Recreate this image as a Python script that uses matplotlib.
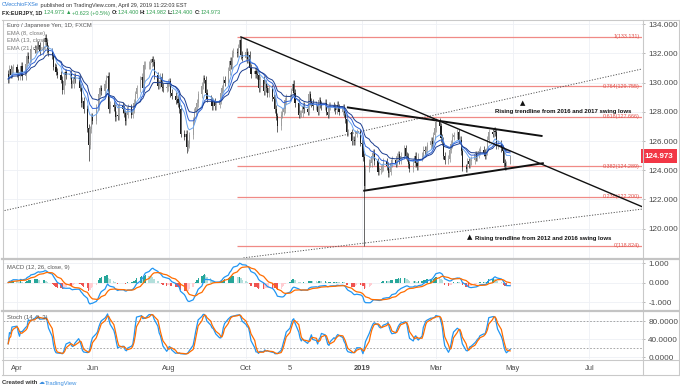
import matplotlib
matplotlib.use('Agg')
import matplotlib.pyplot as plt
import matplotlib.dates as mdates
import matplotlib.transforms as mtransforms
from matplotlib.lines import Line2D
import numpy as np
import pandas as pd

plt.rcParams['font.family'] = ['Liberation Sans', 'DejaVu Sans']

# ---------------- data ----------------
start_date = '2018-03-26'
end_date = '2019-04-29'
first_open = 130.60
closes = [
    130.25, 130.95, 130.55, 130.90, 131.05,
    130.65, 130.45, 130.70, 131.15, 130.45,
    131.30, 131.85, 131.60, 131.65, 132.30,
    132.25, 132.35, 132.60, 132.55, 132.15,
    132.80, 133.05, 132.75, 132.30, 132.10,
    131.85, 131.10, 131.05, 130.75, 130.55,
    130.20, 129.50, 130.10, 130.70, 130.50,
    130.60, 129.90, 129.90, 130.40, 130.25,
    130.30, 129.65, 128.60, 128.75, 128.20,
    126.90, 125.70, 126.80, 127.70, 127.40,
    128.30, 128.35, 129.25, 129.60, 129.40,
    129.90, 130.30, 130.45, 128.20, 128.50,
    128.30, 127.65, 127.80, 127.70, 128.45,
    128.20, 127.90, 127.35, 127.80, 128.30,
    127.80, 128.20, 128.60, 129.20, 129.60,
    130.20, 130.40, 129.60, 131.20, 131.20,
    131.20, 131.35, 131.60, 131.40, 130.50,
    129.80, 129.90, 130.40, 129.70, 129.60,
    129.70, 130.00, 130.10, 129.30, 129.10,
    128.80, 128.90, 128.60, 128.20, 126.50,
    126.30, 126.50, 125.60, 125.80, 126.40,
    127.40, 128.00, 128.30, 128.60, 129.20,
    129.80, 130.30, 130.20, 129.30, 128.90,
    128.80, 128.40, 128.70, 128.40, 128.50,
    128.80, 129.30, 129.60, 130.20, 130.00,
    130.80, 131.50, 131.20, 132.00, 132.10,
    132.00, 132.40, 132.90, 131.90, 131.70,
    132.10, 131.60, 131.90, 131.00, 130.60,
    130.80, 130.60, 130.50, 129.60, 130.20,
    129.40, 129.90, 129.60, 129.30, 129.60,
    129.00, 128.90, 128.20, 127.70, 127.00,
    127.80, 128.00, 128.20, 128.80, 129.00,
    129.00, 129.40, 129.90, 129.30, 128.60,
    127.80, 127.90, 127.90, 128.40, 128.20,
    128.00, 129.20, 128.70, 128.60, 128.40,
    128.50, 128.00, 128.80, 128.50, 128.40,
    128.60, 128.00, 127.80, 128.40, 128.40,
    128.30, 128.10, 128.50, 128.30, 128.00,
    128.30, 127.90, 127.50, 126.60, 126.60,
    126.00, 126.10, 126.00, 126.50, 126.60,
    125.90, 125.80, 124.90, 122.90, 124.10,
    124.50, 124.50, 125.00, 125.20, 124.60,
    123.90, 124.00, 124.10, 124.20, 124.60,
    124.30, 123.80, 123.90, 124.50, 124.70,
    124.50, 124.90, 125.10, 124.70, 125.00,
    125.50, 125.00, 124.90, 124.40, 124.10,
    124.50, 125.00, 124.50, 124.30, 124.90,
    125.00, 125.40, 125.30, 125.40, 125.70,
    126.00, 125.80, 126.40, 126.90, 127.30,
    127.00, 126.20, 126.00, 125.00, 124.70,
    124.80, 125.40, 125.80, 126.30, 126.40,
    126.60, 126.10, 126.10, 125.30, 124.20,
    124.10, 124.60, 124.40, 124.60, 124.70,
    125.10, 124.90, 125.10, 125.30, 125.40,
    125.20, 125.00, 125.30, 126.10, 126.60,
    126.50, 126.70, 126.60, 125.70, 125.80,
    125.50, 125.30, 124.50, 124.30, 124.35,
    124.973,
]
wick_pad = 0.25
high_overrides = {'2018-04-25': 133.35, '2018-09-26': 133.13, '2019-04-29': 124.982}
low_overrides = {'2018-05-29': 124.62, '2018-08-15': 125.20, '2018-10-26': 126.60,
                 '2019-01-03': 118.82, '2019-04-29': 124.40}
open_overrides = {'2019-04-29': 124.40}

fib_low, fib_high = 118.824, 133.131
fib_ratios = [1.0, 0.764, 0.618, 0.382, 0.236, 0.0]
fib_start = '2018-09-24'

desc_line = (('2018-09-27', 133.13), ('2019-08-12', 121.50))
tri_upper = (('2018-12-21', 128.30), ('2019-05-24', 126.35))
tri_lower = (('2019-01-03', 122.60), ('2019-05-25', 124.48))
dot_line1 = (('2018-03-21', 121.20), ('2019-08-12', 130.94))
dot_line2 = (('2018-09-29', 118.00), ('2019-08-12', 121.34))

price_ticks = [120, 122, 124, 126, 128, 130, 132, 134]
macd_ticks = [-1, 0, 1]
stoch_ticks = [0, 40, 80]
date_ticks = ['2018-04-02', '2018-06-01', '2018-08-01', '2018-10-01', '2018-11-05',
              '2019-01-01', '2019-03-01', '2019-05-01', '2019-07-01']
date_labels = ['Apr', 'Jun', 'Aug', 'Oct', '5', '2019', 'Mar', 'May', 'Jul']
last_price = 124.973

# ---------------- derived series ----------------
dates = pd.bdate_range(start_date, end_date)
assert len(dates) == len(closes)
c = pd.Series(closes, index=dates)
o = pd.Series(np.r_[first_open, closes[:-1]], index=dates)
for d, v in open_overrides.items():
    o[pd.Timestamp(d)] = v
hi = np.maximum(o, c) + wick_pad
lo = np.minimum(o, c) - wick_pad
for d, v in high_overrides.items():
    hi[pd.Timestamp(d)] = v
for d, v in low_overrides.items():
    lo[pd.Timestamp(d)] = v

ema8 = c.ewm(span=8, adjust=False).mean()
ema13 = c.ewm(span=13, adjust=False).mean()
ema21 = c.ewm(span=21, adjust=False).mean()
macd = c.ewm(span=12, adjust=False).mean() - c.ewm(span=26, adjust=False).mean()
signal = macd.ewm(span=9, adjust=False).mean()
hist = macd - signal
ll = lo.rolling(14, min_periods=1).min()
hh = hi.rolling(14, min_periods=1).max()
rawk = 100 * (c - ll) / (hh - ll)
k = rawk.rolling(3, min_periods=1).mean()
dline = k.rolling(3, min_periods=1).mean()

x = mdates.date2num(dates.to_pydatetime())

# ---------------- layout ----------------
W, H = 680, 391
fig = plt.figure(figsize=(6.8, 3.91), dpi=100)
fig.patch.set_facecolor('white')

def rect(l, t, r, b):
    return [l / W, 1 - b / H, (r - l) / W, (b - t) / H]

ax1 = fig.add_axes(rect(3, 20, 642, 258))
ax2 = fig.add_axes(rect(3, 260, 642, 310))
ax3 = fig.add_axes(rect(3, 312, 642, 359))

x_anchor = mdates.date2num(pd.Timestamp('2018-04-02'))
px_per_day = 1.258
xl = x_anchor + (3 - 17) / px_per_day
xr = x_anchor + (642 - 17) / px_per_day

def dn(s):
    return mdates.date2num(pd.Timestamp(s))

grid_c = '#eef0f5'
tick_c = '#4a4a4a'
for ax in (ax1, ax2, ax3):
    ax.set_xlim(xl, xr)
    for s in ax.spines.values():
        s.set_visible(False)
    ax.set_xticks([dn(d) for d in date_ticks])
    ax.grid(True, color=grid_c, lw=0.6, zorder=0)
    ax.set_axisbelow(True)
    ax.yaxis.tick_right()
    ax.tick_params(axis='y', labelsize=5.9, colors='#9a9a9a', labelcolor=tick_c,
                   length=2.5, width=0.5, pad=2)
    ax.tick_params(axis='x', length=0)
ax1.set_xticklabels([])
ax2.set_xticklabels([])

# ---- main pane ----
ax1.set_ylim(117.99, 134.29)
ax1.set_yticks(price_ticks)
ax1.set_yticklabels([f'{v:.3f}' for v in price_ticks])

up = (c >= o).values
body_col = np.where(up, '#9c9c9c', '#1e1e1e')
ax1.vlines(x, lo.values, hi.values, colors=np.where(up, '#8a8a8a', '#2a2a2a'), lw=0.5, zorder=3)
ax1.bar(x, np.maximum(np.abs(c - o).values, 0.04), bottom=np.minimum(o, c).values,
        width=0.9, color=body_col, linewidth=0, zorder=3)

ax1.plot(x, ema8.values, color='#6aa5f0', lw=0.7, zorder=4)
ax1.plot(x, ema13.values, color='#2f62d6', lw=0.7, zorder=4)
ax1.plot(x, ema21.values, color='#1b3d8f', lw=0.7, zorder=4)

fib_levels = [fib_low + r * (fib_high - fib_low) for r in fib_ratios]
ax1.hlines(fib_levels, dn(fib_start), xr, colors='#f08a86', lw=0.9, zorder=2)
for r, lv in zip(fib_ratios, fib_levels):
    lab = f'{r:g}({lv:.3f})'
    ax1.text(xr - 1.5, lv, lab, ha='right', va='center', fontsize=3.9, color='#e0524c', zorder=5)

def seg(ax, line, **kw):
    (d0, p0), (d1, p1) = line
    ax.plot([dn(d0), dn(d1)], [p0, p1], **kw)

seg(ax1, desc_line, color='#111111', lw=1.0, zorder=5)
seg(ax1, tri_upper, color='#111111', lw=1.4, zorder=5)
seg(ax1, tri_lower, color='#111111', lw=1.4, zorder=5)
seg(ax1, dot_line1, color='#555555', lw=0.7, ls=(0, (1.2, 1.6)), zorder=2)
seg(ax1, dot_line2, color='#555555', lw=0.7, ls=(0, (1.2, 1.6)), zorder=2)

ax1.text(dn('2019-05-09'), 128.62, '\u25B2', ha='center', va='center', fontsize=5,
         color='#111111', family=['DejaVu Sans'], zorder=6)
ax1.text(dn('2019-06-10'), 128.05, 'Rising trendline from 2016 and 2017 swing lows',
         ha='center', va='center', fontsize=4.3, fontweight='bold', color='#111111', zorder=6)
ax1.text(dn('2019-03-28'), 119.40, '\u25B2', ha='center', va='center', fontsize=5,
         color='#111111', family=['DejaVu Sans'], zorder=6)
ax1.text(dn('2019-04-01'), 119.30, 'Rising trendline from 2012 and 2016 swing lows',
         ha='left', va='center', fontsize=4.3, fontweight='bold', color='#111111', zorder=6)

trans = mtransforms.blended_transform_factory(ax1.transAxes, ax1.transData)
ax1.text(1.004, last_price, f'{last_price:.3f}', transform=trans, ha='left', va='center',
         fontsize=5.8, fontweight='bold', color='white', zorder=7, clip_on=False,
         bbox=dict(boxstyle='square,pad=0.45', fc='#f23645', ec='none'))

leg = ['Euro / Japanese Yen, 1D, FXCM', 'EMA (8, close)', 'EMA (13, close)', 'EMA (21, close)']
for i, t in enumerate(leg):
    fig.text(7 / W, 1 - (26 + 7.4 * i) / H, t, fontsize=4.2, color='#555555' if i == 0 else '#777777',
             va='center', ha='left', zorder=8)

# ---- MACD pane ----
ax2.set_ylim(-1.41, 1.154)
ax2.set_yticks(macd_ticks)
ax2.set_yticklabels([f'{v:.3f}' for v in macd_ticks])
hv = hist.values
prev = np.r_[hv[0], hv[:-1]]
hcol = np.where(hv >= 0, np.where(hv >= prev, '#26a69a', '#b2dfdb'),
                np.where(hv < prev, '#ef5350', '#ffcdd2'))
ax2.bar(x, hv, width=1.0, color=hcol, linewidth=0, zorder=2)
ax2.plot(x, macd.values, color='#2196f3', lw=0.9, zorder=3)
ax2.plot(x, signal.values, color='#ff6d00', lw=0.9, zorder=3)
fig.text(7 / W, 1 - 267 / H, 'MACD (12, 26, close, 9)', fontsize=4.2, color='#555555', va='center')

# ---- Stoch pane ----
ax3.set_ylim(-4.4, 100)
ax3.set_yticks(stoch_ticks)
ax3.set_yticklabels([f'{v:.4f}' for v in stoch_ticks])
ax3.axhline(80, color='#9a9a9a', lw=0.6, ls=(0, (2, 2)), zorder=2)
ax3.axhline(20, color='#9a9a9a', lw=0.6, ls=(0, (2, 2)), zorder=2)
ax3.plot(x, k.values, color='#2196f3', lw=0.9, zorder=3)
ax3.plot(x, dline.values, color='#ff6d00', lw=0.9, zorder=3)
fig.text(7 / W, 1 - 318 / H, 'Stoch (14, 3, 3)', fontsize=4.2, color='#555555', va='center')

ax3.set_xticklabels(date_labels)
ax3.tick_params(axis='x', labelsize=5.4, labelcolor='#4a4a4a', pad=4)
for lbl in ax3.get_xticklabels():
    if lbl.get_text() == '2019':
        lbl.set_fontweight('bold')

# ---- frame lines ----
def fline(x0, y0, x1, y1, c='#c9c9c9', lw=0.8):
    fig.add_artist(Line2D([x0 / W, x1 / W], [1 - y0 / H, 1 - y1 / H], color=c, lw=lw))

fline(2, 19.5, 679, 19.5)
fline(2, 375, 679, 375)
fline(2.5, 19.5, 2.5, 375)
fline(678.5, 19.5, 678.5, 375)
fline(642.5, 19.5, 642.5, 375)
fline(2, 259, 679, 259, c='#c4c4c4', lw=1.6)
fline(2, 311, 679, 311, c='#c4c4c4', lw=1.6)
fline(2, 359.5, 679, 359.5)

# ---- header & footer ----
renderer = fig.canvas.get_renderer()

def pieces(x_px, y_px, parts, size):
    cx = x_px
    for txt, col, wt in parts:
        t = fig.text(cx / W, 1 - y_px / H, txt, fontsize=size, color=col, fontweight=wt,
                     va='center', ha='left', family=['Liberation Sans', 'DejaVu Sans'])
        bb = t.get_window_extent(renderer=renderer)
        cx += bb.width

pieces(2, 5, [('CVecchioFXSe', '#2f7fd8', 'normal'),
              (' published on TradingView.com, April 29, 2019 11:22:03 EST', '#333333', 'normal')], 4.0)
green = '#2e9e4f'
pieces(2, 13, [('FX:EURJPY, 1D ', '#222222', 'bold'), ('124.973 ', green, 'normal'),
               ('\u25B2 ', green, 'normal'), ('+0.623 (+0.5%) ', green, 'normal'),
               ('O:', '#222222', 'bold'), ('124.400 ', green, 'normal'),
               ('H:', '#222222', 'bold'), ('124.982 ', green, 'normal'),
               ('L:', '#222222', 'bold'), ('124.400 ', green, 'normal'),
               ('C:', '#222222', 'bold'), ('124.973', green, 'normal')], 4.0)
pieces(2, 383, [('Created with ', '#333333', 'bold'), ('\u2601', '#3d8fe0', 'normal'),
                ('TradingView', '#3d8fe0', 'normal')], 4.2)

fig.savefig('out.png', dpi=100, facecolor='white')
